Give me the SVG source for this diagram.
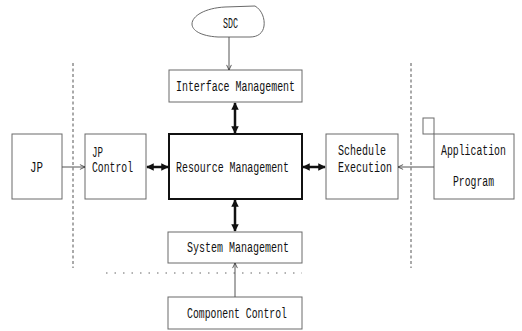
<svg xmlns="http://www.w3.org/2000/svg" width="522" height="331" viewBox="0 0 522 331">
  <defs>
    <style>
      .box { fill: #fff; stroke: #6a6a6a; stroke-width: 1; }
      .core { fill: #fff; stroke: #111; stroke-width: 2; }
      .lbl { font-family: "Liberation Mono", "DejaVu Sans Mono", monospace; font-size: 14px; fill: #111; }
      .bold { stroke: #111; stroke-width: 2.5; fill: none; }
      .thin { stroke: #555; stroke-width: 1; fill: none; }
      .divider { stroke: #555; stroke-width: 1; stroke-dasharray: 3 2.5; fill: none; }
      .dots { stroke: #666; stroke-width: 1; stroke-dasharray: 1.5 7; fill: none; }
    </style>
    <marker id="solid" viewBox="0 0 10 10" refX="9" refY="5" markerWidth="3" markerHeight="3" orient="auto-start-reverse" markerUnits="strokeWidth">
      <path d="M0,0 L10,5 L0,10 Z" fill="#111"/>
    </marker>
    <marker id="open" viewBox="0 0 10 10" refX="9.5" refY="5" markerWidth="6" markerHeight="6" orient="auto" markerUnits="userSpaceOnUse">
      <path d="M1,1 L9.5,5 L1,9" fill="none" stroke="#333" stroke-width="1.3"/>
    </marker>
  </defs>

  <!-- region dividers -->
  <g id="dividers">
    <line class="divider" x1="73" y1="63" x2="73" y2="268"/>
    <line class="divider" x1="411" y1="63" x2="411" y2="268"/>
    <line class="dots" x1="106" y1="273" x2="302" y2="273"/>
  </g>

  <g id="sdc">
    <path class="box" d="M255,6 C262,10 265,19 264,26 C263,33 258,37 250,37 L218,37 C200,36 192,30 192,24 C192,16 205,8 225,7 Z"/>
    <text class="lbl" x="230.5" y="28" text-anchor="middle" textLength="15" lengthAdjust="spacingAndGlyphs">SDC</text>
  </g>

  <g id="interface-management">
    <rect class="box" x="169" y="70" width="133" height="32"/>
    <text class="lbl" x="176" y="91" textLength="119" lengthAdjust="spacingAndGlyphs">Interface Management</text>
  </g>

  <g id="resource-management">
    <rect class="core" x="169" y="134" width="133" height="65"/>
    <text class="lbl" x="176" y="172" textLength="113" lengthAdjust="spacingAndGlyphs">Resource Management</text>
  </g>

  <g id="jp">
    <rect class="box" x="12" y="134" width="50" height="65"/>
    <text class="lbl" x="30" y="172" textLength="13" lengthAdjust="spacingAndGlyphs">JP</text>
  </g>

  <g id="jp-control">
    <rect class="box" x="85" y="134" width="61" height="65"/>
    <text class="lbl" x="92" y="157" textLength="11" lengthAdjust="spacingAndGlyphs">JP</text>
    <text class="lbl" x="92" y="172" textLength="41" lengthAdjust="spacingAndGlyphs">Control</text>
  </g>

  <g id="schedule-execution">
    <rect class="box" x="326" y="134" width="72" height="65"/>
    <text class="lbl" x="338" y="155" textLength="48" lengthAdjust="spacingAndGlyphs">Schedule</text>
    <text class="lbl" x="338" y="172" textLength="54" lengthAdjust="spacingAndGlyphs">Execution</text>
  </g>

  <g id="application-program">
    <rect class="box" x="423" y="118" width="11" height="16"/>
    <rect class="box" x="434" y="134" width="80" height="65"/>
    <text class="lbl" transform="translate(441 155) scale(0.703 1)">Application</text>
    <text class="lbl" x="453" y="186" textLength="41" lengthAdjust="spacingAndGlyphs">Program</text>
  </g>

  <g id="system-management">
    <rect class="box" x="168" y="232" width="134" height="31"/>
    <text class="lbl" x="187" y="252" textLength="102" lengthAdjust="spacingAndGlyphs">System Management</text>
  </g>

  <g id="component-control">
    <rect class="box" x="168" y="297" width="134" height="32"/>
    <text class="lbl" x="187" y="318" textLength="100" lengthAdjust="spacingAndGlyphs">Component Control</text>
  </g>

  <g id="connectors">
    <!-- two-way links to the resource manager -->
    <line class="bold" x1="235" y1="103" x2="235" y2="133" marker-start="url(#solid)" marker-end="url(#solid)"/>
    <line class="bold" x1="235" y1="200" x2="235" y2="231" marker-start="url(#solid)" marker-end="url(#solid)"/>
    <line class="bold" x1="147" y1="167" x2="168" y2="167" marker-start="url(#solid)" marker-end="url(#solid)"/>
    <line class="bold" x1="303" y1="167" x2="325" y2="167" marker-start="url(#solid)" marker-end="url(#solid)"/>
    <!-- one-way inputs -->
    <line class="thin" x1="229" y1="37" x2="229" y2="70" marker-end="url(#open)"/>
    <line class="thin" x1="62" y1="167" x2="85" y2="167" marker-end="url(#open)"/>
    <line class="thin" x1="434" y1="167" x2="398" y2="167" marker-end="url(#open)"/>
    <line class="thin" x1="235" y1="297" x2="235" y2="263" marker-end="url(#open)"/>
  </g>
</svg>
